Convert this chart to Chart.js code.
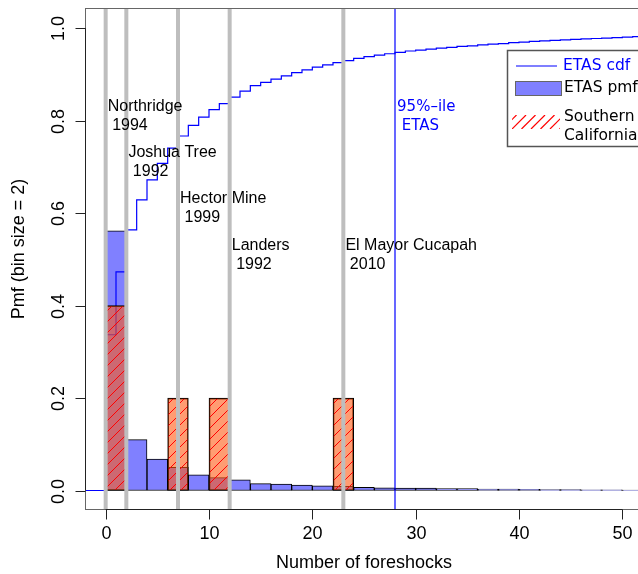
<!DOCTYPE html>
<html>
<head>
<meta charset="utf-8">
<script src="https://cdn.jsdelivr.net/npm/chart.js@4/dist/chart.umd.min.js"></script>
<style>
    html, body { margin: 0; padding: 0; overflow: hidden; background: #fff; }
    canvas { display: block; }
</style>
</head>
<body>
<canvas id="foreshock-chart" width="680" height="574"></canvas>
<script>
// ETAS cdf, value held on [k, k + 1) for k = 0..52
const etasCdf = [
    0.337, 0.473, 0.564, 0.629, 0.672, 0.708, 0.741, 0.767, 0.790, 0.808,
    0.824, 0.837, 0.851, 0.864, 0.876, 0.883, 0.890, 0.897, 0.904, 0.910,
    0.916, 0.921, 0.926, 0.930, 0.935, 0.939, 0.942, 0.945, 0.948, 0.951,
    0.953, 0.955, 0.957, 0.959, 0.961, 0.962, 0.964, 0.966, 0.967, 0.969,
    0.970, 0.972, 0.973, 0.974, 0.975, 0.976, 0.977, 0.978, 0.979, 0.980,
    0.981, 0.982, 0.983,
];

// left edges of the size-2 bins
const binStarts = [0, 2, 4, 6, 8, 10, 12, 14, 16, 18, 20, 22, 24, 26, 28, 30, 32, 34, 36, 38, 40, 42, 44, 46, 48, 50, 52];
const etasPmf = [
    0.562, 0.110, 0.068, 0.050, 0.034, 0.028, 0.023, 0.015, 0.014, 0.012,
    0.010, 0.009, 0.007, 0.006, 0.005, 0.005, 0.004, 0.004, 0.003, 0.003,
    0.0025, 0.002, 0.002, 0.0015, 0.0015, 0.001, 0.001,
];
const socalPmf = [0.4, 0, 0, 0.2, 0, 0.2, 0, 0, 0, 0, 0, 0.2, 0, 0, 0, 0, 0, 0, 0, 0, 0, 0, 0, 0, 0, 0, 0];

const eventNames = ["Northridge", "Joshua Tree", "Hector Mine", "Landers", "El Mayor Cucapah"];
const eventYears = ["1994", "1992", "1999", "1992", "2010"];
const eventForeshocks = [0, 2, 7, 12, 23];
const etas95 = 28;

const xTicks = [0, 10, 20, 30, 40, 50];
const yTicks = [0, 0.2, 0.4, 0.6, 0.8, 1.0];
const yTickLabels = ["0.0", "0.2", "0.4", "0.6", "0.8", "1.0"];

const SANS = '"Liberation Sans", Arial, sans-serif';
const DEJAVU = '"DejaVu Sans", sans-serif';

function hatchPattern() {
    const size = 11;
    const tile = document.createElement("canvas");
    tile.width = size;
    tile.height = size;
    const c = tile.getContext("2d");
    c.fillStyle = "rgba(255, 90, 20, 0.6)";
    c.fillRect(0, 0, size, size);
    c.strokeStyle = "#ff0000";
    c.lineWidth = 1;
    c.beginPath();
    c.moveTo(0, size);
    c.lineTo(size, 0);
    c.moveTo(-1, 1);
    c.lineTo(1, -1);
    c.moveTo(size - 1, size + 1);
    c.lineTo(size + 1, size - 1);
    c.stroke();
    return c.createPattern(tile, "repeat");
}

function line(ctx, x1, y1, x2, y2) {
    ctx.beginPath();
    ctx.moveTo(x1, y1);
    ctx.lineTo(x2, y2);
    ctx.stroke();
}

// event lines, labels, frame, axes and legend drawn on top of the datasets
const overlays = {
    id: "overlays",
    afterDatasetsDraw(chart) {
        const { ctx, chartArea: area } = chart;
        const x = chart.scales.x;
        const y = chart.scales.y;
        ctx.save();

        ctx.strokeStyle = "#bebebe";
        ctx.lineWidth = 4;
        eventForeshocks.forEach((n) => {
            const px = x.getPixelForValue(n);
            line(ctx, px, area.top, px, area.bottom);
        });

        // 95th percentile of the ETAS distribution
        ctx.strokeStyle = "rgb(0, 0, 255)";
        ctx.lineWidth = 1.2;
        const p95 = x.getPixelForValue(etas95);
        line(ctx, p95, area.top, p95, area.bottom);

        // two-line labels beside each event line
        const labelHeights = [0.81, 0.71, 0.61, 0.51, 0.51];
        ctx.font = `16px ${SANS}`;
        ctx.fillStyle = "#000";
        ctx.textAlign = "left";
        ctx.textBaseline = "middle";
        eventNames.forEach((name, i) => {
            const px = x.getPixelForValue(eventForeshocks[i] + 0.2);
            const py = y.getPixelForValue(labelHeights[i]);
            ctx.fillText(name, px, py - 9.5);
            ctx.fillText(" " + eventYears[i], px, py + 9.5);
        });

        ctx.font = `15px ${DEJAVU}`;
        ctx.fillStyle = "#0000ff";
        const p95y = y.getPixelForValue(0.81);
        ctx.fillText("95%\u2013ile", x.getPixelForValue(etas95 + 0.2), p95y - 9.5);
        ctx.fillText(" ETAS", x.getPixelForValue(etas95 + 0.2), p95y + 9.5);

        // plot frame
        ctx.strokeStyle = "#666";
        ctx.lineWidth = 1;
        ctx.strokeRect(area.left + 0.5, area.top + 0.5, area.right - area.left, area.bottom - area.top);

        // axes with outward ticks
        ctx.strokeStyle = "#222";
        const ax = area.left + 0.5;
        const ay = area.bottom + 0.5;
        line(ctx, ax, y.getPixelForValue(yTicks[0]), ax, y.getPixelForValue(yTicks[yTicks.length - 1]));
        line(ctx, x.getPixelForValue(xTicks[0]), ay, x.getPixelForValue(xTicks[xTicks.length - 1]), ay);

        ctx.fillStyle = "#000";
        ctx.font = `18px ${SANS}`;
        ctx.textAlign = "center";
        xTicks.forEach((t) => {
            const px = Math.round(x.getPixelForValue(t)) + 0.5;
            line(ctx, px, ay, px, ay + 10);
            ctx.fillText(String(t), px, 534);
        });
        yTicks.forEach((t, i) => {
            const py = Math.round(y.getPixelForValue(t)) + 0.5;
            line(ctx, ax - 10, py, ax, py);
            ctx.save();
            ctx.translate(59, py);
            ctx.rotate(-Math.PI / 2);
            ctx.fillText(yTickLabels[i], 0, 0);
            ctx.restore();
        });

        ctx.fillText("Number of foreshocks", (area.left + area.right) / 2, 563);
        ctx.save();
        ctx.translate(19, 249);
        ctx.rotate(-Math.PI / 2);
        ctx.fillText("Pmf (bin size = 2)", 0, 0);
        ctx.restore();

        // legend box
        const lx = 507.5;
        const ly = 50.5;
        ctx.fillStyle = "#fff";
        ctx.fillRect(lx, ly, 200, 96);
        ctx.strokeStyle = "#555";
        ctx.lineWidth = 1.5;
        ctx.strokeRect(lx, ly, 200, 96);

        ctx.strokeStyle = "#0000ff";
        ctx.lineWidth = 1.2;
        line(ctx, 516, 66, 557, 66);

        ctx.fillStyle = "#8080ff";
        ctx.fillRect(515, 81, 46, 14);
        ctx.strokeStyle = "#666";
        ctx.lineWidth = 1;
        ctx.strokeRect(515.5, 81.5, 46, 14);

        ctx.save();
        ctx.beginPath();
        ctx.rect(512, 115, 48, 14);
        ctx.clip();
        ctx.strokeStyle = "#ff0000";
        ctx.lineWidth = 1.2;
        for (let i = -1; i < 6; i++) {
            const sx = 512 + i * 9.5;
            line(ctx, sx, 129, sx + 14, 115);
        }
        ctx.restore();

        ctx.font = `15.5px ${DEJAVU}`;
        ctx.textAlign = "left";
        ctx.fillStyle = "#0000ff";
        ctx.fillText("ETAS cdf", 563, 66);
        ctx.fillStyle = "#000";
        ctx.fillText("ETAS pmf", 564, 88);
        ctx.fillText("Southern", 564, 117);
        ctx.fillText("California", 564, 136);

        ctx.restore();
    },
};

function initForeshockChart() {
    const canvas = document.getElementById("foreshock-chart");

    const cdfPoints = [{ x: -2, y: 0 }];
    etasCdf.forEach((v, k) => cdfPoints.push({ x: k, y: v }));
    cdfPoints.push({ x: etasCdf.length, y: etasCdf[etasCdf.length - 1] });

    const barOptions = {
        type: "bar",
        borderColor: "#000",
        borderWidth: 1,
        borderSkipped: false,
        grouped: false,
        barPercentage: 1,
        categoryPercentage: 1,
    };

    new Chart(canvas, {
        type: "bar",
        data: {
            datasets: [
                {
                    ...barOptions,
                    label: "Southern California",
                    data: binStarts.map((b, i) => ({ x: b + 1, y: socalPmf[i] || null })),
                    backgroundColor: hatchPattern(),
                    order: 1,
                },
                {
                    type: "line",
                    label: "ETAS cdf",
                    data: cdfPoints,
                    borderColor: "#0000ff",
                    borderWidth: 1.2,
                    stepped: true,
                    pointRadius: 0,
                    fill: false,
                    order: 2,
                },
                {
                    ...barOptions,
                    label: "ETAS pmf",
                    data: binStarts.map((b, i) => ({ x: b + 1, y: etasPmf[i] })),
                    backgroundColor: "#8080ff",
                    order: 3,
                },
            ],
        },
        options: {
            responsive: false,
            animation: false,
            layout: { padding: { left: 85, top: 8, right: 37, bottom: 65 } },
            plugins: {
                legend: { display: false },
                tooltip: { enabled: false },
            },
            scales: {
                x: { type: "linear", min: -2, max: 52, offset: false, display: false },
                y: { type: "linear", min: -0.04, max: 1.044, display: false },
            },
        },
        plugins: [overlays],
    });
}

document.addEventListener("DOMContentLoaded", initForeshockChart);
</script>
</body>
</html>
